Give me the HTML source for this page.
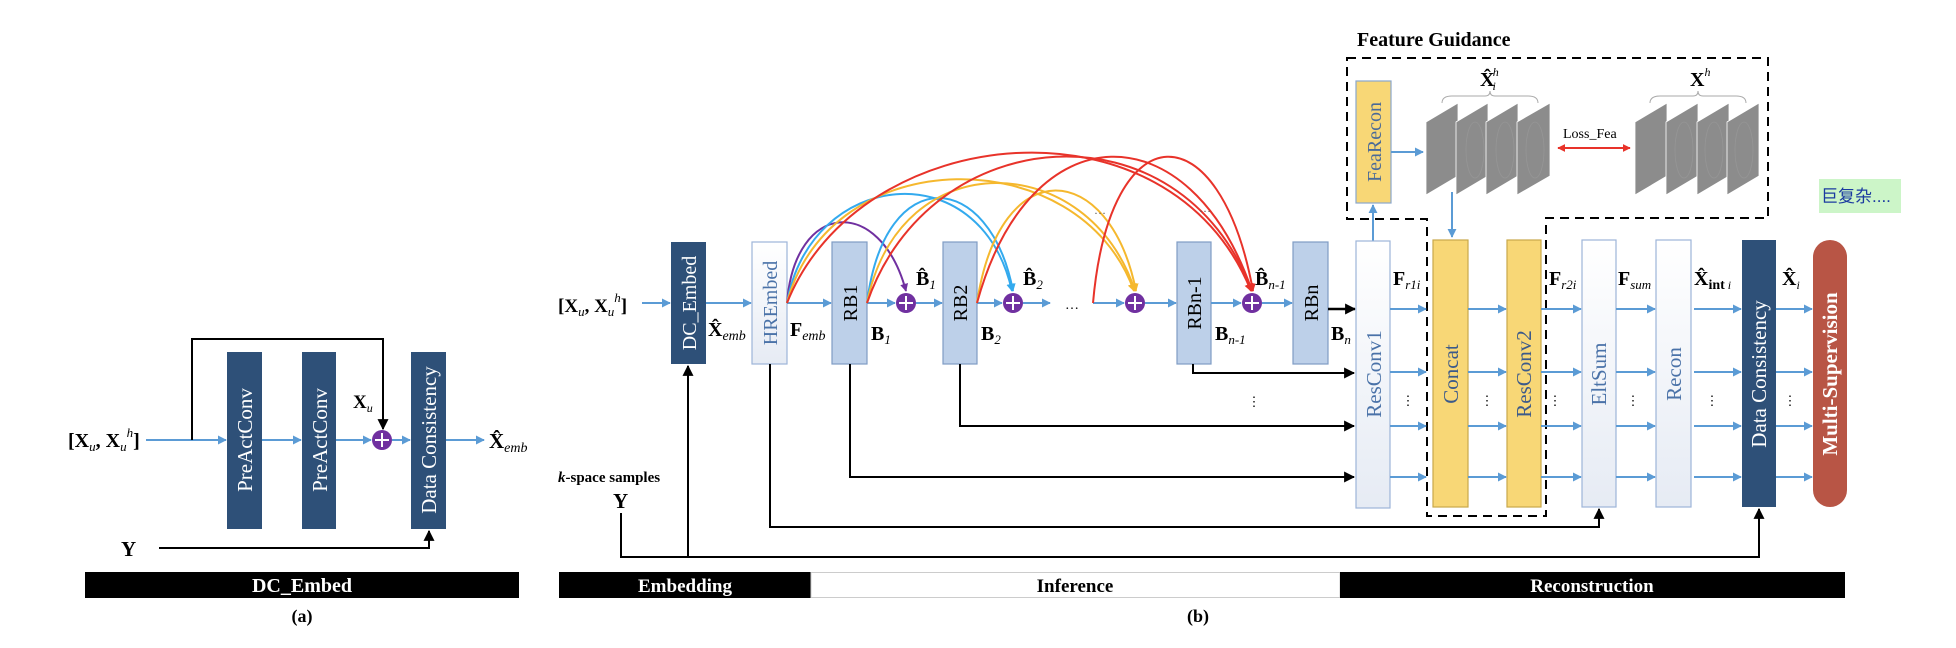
<!DOCTYPE html>
<html><head><meta charset="utf-8"><style>
html,body{margin:0;padding:0;background:#fff;}
svg{display:block;font-family:"Liberation Serif",serif;}
</style></head><body>
<svg width="1956" height="648" viewBox="0 0 1956 648" xmlns="http://www.w3.org/2000/svg">
<defs>
<marker id="ab" viewBox="0 0 10 10" refX="9" refY="5" markerWidth="9" markerHeight="9" markerUnits="userSpaceOnUse" orient="auto"><path d="M0,0 L10,5 L0,10 z" fill="#5b9bd5"/></marker>
<marker id="ak" viewBox="0 0 10 10" refX="9" refY="5" markerWidth="11" markerHeight="11" markerUnits="userSpaceOnUse" orient="auto"><path d="M0,0 L10,5 L0,10 z" fill="#000"/></marker>
<marker id="ap" viewBox="0 0 10 10" refX="9" refY="5" markerWidth="8" markerHeight="8" markerUnits="userSpaceOnUse" orient="auto"><path d="M0,0 L10,5 L0,10 z" fill="#7030a0"/></marker>
<marker id="ac" viewBox="0 0 10 10" refX="9" refY="5" markerWidth="8" markerHeight="8" markerUnits="userSpaceOnUse" orient="auto"><path d="M0,0 L10,5 L0,10 z" fill="#33aaee"/></marker>
<marker id="ay" viewBox="0 0 10 10" refX="9" refY="5" markerWidth="8" markerHeight="8" markerUnits="userSpaceOnUse" orient="auto"><path d="M0,0 L10,5 L0,10 z" fill="#f5b82e"/></marker>
<marker id="ar" viewBox="0 0 10 10" refX="9" refY="5" markerWidth="8" markerHeight="8" markerUnits="userSpaceOnUse" orient="auto"><path d="M0,0 L10,5 L0,10 z" fill="#e8332a"/></marker>
<marker id="ar2" viewBox="0 0 10 10" refX="1" refY="5" markerWidth="8" markerHeight="8" markerUnits="userSpaceOnUse" orient="auto"><path d="M10,0 L0,5 L10,10 z" fill="#e8332a"/></marker>
<linearGradient id="wg" x1="0" y1="0" x2="0" y2="1"><stop offset="0" stop-color="#ffffff"/><stop offset="1" stop-color="#e6ebf4"/></linearGradient>
<g id="plus"><circle r="10" fill="#7030a0"/><path d="M-7,0 H7 M0,-7 V7" stroke="#fff" stroke-width="2"/></g>
</defs>

<!-- ===== Part (a) ===== -->
<text x="68" y="447" font-size="20" font-weight="bold">[X<tspan font-size="13" font-style="italic" font-weight="normal" dy="4">u</tspan><tspan dy="-4">, X</tspan><tspan font-size="13" font-style="italic" font-weight="normal" dy="4">u</tspan><tspan font-size="13" font-style="italic" font-weight="normal" dy="-14">h</tspan><tspan dy="10">]</tspan></text>
<line x1="146" y1="440" x2="226" y2="440" stroke="#5b9bd5" stroke-width="2" marker-end="url(#ab)"/>
<polyline points="192,440 192,339 383,339 383,429" fill="none" stroke="#000" stroke-width="2" marker-end="url(#ak)"/>
<rect x="227" y="352" width="35" height="177" fill="#2e5078"/>
<rect x="302" y="352" width="34" height="177" fill="#2e5078"/>
<rect x="411" y="352" width="35" height="177" fill="#2e5078"/>
<text transform="translate(252,440) rotate(-90)" text-anchor="middle" font-size="21" fill="#fff">PreActConv</text>
<text transform="translate(327,440) rotate(-90)" text-anchor="middle" font-size="21" fill="#fff">PreActConv</text>
<text transform="translate(436,440) rotate(-90)" text-anchor="middle" font-size="21" fill="#fff">Data Consistency</text>
<line x1="262" y1="440" x2="301" y2="440" stroke="#5b9bd5" stroke-width="2" marker-end="url(#ab)"/>
<line x1="336" y1="440" x2="371" y2="440" stroke="#5b9bd5" stroke-width="2" marker-end="url(#ab)"/>
<use href="#plus" x="382" y="440"/>
<line x1="392" y1="440" x2="410" y2="440" stroke="#5b9bd5" stroke-width="2" marker-end="url(#ab)"/>
<line x1="446" y1="440" x2="484" y2="440" stroke="#5b9bd5" stroke-width="2" marker-end="url(#ab)"/>
<text x="353" y="408" font-size="19" font-weight="bold">X<tspan font-size="12" font-style="italic" font-weight="normal" dy="4">u</tspan></text>
<text x="489" y="448" font-size="21" font-weight="bold">X̂<tspan font-size="14" font-style="italic" font-weight="normal" dy="4">emb</tspan></text>
<text x="121" y="556" font-size="21" font-weight="bold">Y</text>
<polyline points="159,548 429,548 429,531" fill="none" stroke="#000" stroke-width="2" marker-end="url(#ak)"/>
<rect x="85" y="572" width="434" height="26" fill="#000"/>
<text x="302" y="592" text-anchor="middle" font-size="20" font-weight="bold" fill="#fff">DC_Embed</text>
<text x="302" y="622" text-anchor="middle" font-size="18" font-weight="bold">(a)</text>

<!-- ===== Part (b) ===== -->
<text x="558" y="312" font-size="19" font-weight="bold">[X<tspan font-size="13" font-style="italic" font-weight="normal" dy="4">u</tspan><tspan dy="-4">, X</tspan><tspan font-size="13" font-style="italic" font-weight="normal" dy="4">u</tspan><tspan font-size="13" font-style="italic" font-weight="normal" dy="-14">h</tspan><tspan dy="10">]</tspan></text>
<line x1="642" y1="303" x2="670" y2="303" stroke="#5b9bd5" stroke-width="2" marker-end="url(#ab)"/>
<rect x="671" y="242" width="35" height="122" fill="#2e5078"/>
<text transform="translate(696,303) rotate(-90)" text-anchor="middle" font-size="20" fill="#fff">DC_Embed</text>
<line x1="706" y1="303" x2="751" y2="303" stroke="#5b9bd5" stroke-width="2" marker-end="url(#ab)"/>
<rect x="752" y="242" width="35" height="122" fill="url(#wg)" stroke="#9db5d8" stroke-width="1.2"/>
<text transform="translate(777,303) rotate(-90)" text-anchor="middle" font-size="20" fill="#4a72a8">HREmbed</text>
<line x1="787" y1="303" x2="831" y2="303" stroke="#5b9bd5" stroke-width="2" marker-end="url(#ab)"/>
<rect x="832" y="242" width="35" height="122" fill="#bdd0e9" stroke="#7f9cc4" stroke-width="1.2"/>
<text transform="translate(857,303) rotate(-90)" text-anchor="middle" font-size="20" fill="#000">RB1</text>
<line x1="867" y1="303" x2="895" y2="303" stroke="#5b9bd5" stroke-width="2" marker-end="url(#ab)"/>
<use href="#plus" x="906" y="303"/>
<line x1="916" y1="303" x2="942" y2="303" stroke="#5b9bd5" stroke-width="2" marker-end="url(#ab)"/>
<rect x="943" y="242" width="34" height="122" fill="#bdd0e9" stroke="#7f9cc4" stroke-width="1.2"/>
<text transform="translate(967,303) rotate(-90)" text-anchor="middle" font-size="20" fill="#000">RB2</text>
<line x1="977" y1="303" x2="1002" y2="303" stroke="#5b9bd5" stroke-width="2" marker-end="url(#ab)"/>
<use href="#plus" x="1013" y="303"/>
<line x1="1023" y1="303" x2="1050" y2="303" stroke="#5b9bd5" stroke-width="2" marker-end="url(#ab)"/>
<text x="1072" y="309" text-anchor="middle" font-size="14">…</text>
<line x1="1093" y1="303" x2="1124" y2="303" stroke="#5b9bd5" stroke-width="2" marker-end="url(#ab)"/>
<use href="#plus" x="1135" y="303"/>
<line x1="1145" y1="303" x2="1176" y2="303" stroke="#5b9bd5" stroke-width="2" marker-end="url(#ab)"/>
<rect x="1177" y="242" width="34" height="122" fill="#bdd0e9" stroke="#7f9cc4" stroke-width="1.2"/>
<text transform="translate(1201,303) rotate(-90)" text-anchor="middle" font-size="20" fill="#000">RBn-1</text>
<line x1="1211" y1="303" x2="1241" y2="303" stroke="#5b9bd5" stroke-width="2" marker-end="url(#ab)"/>
<use href="#plus" x="1252" y="303"/>
<line x1="1262" y1="303" x2="1292" y2="303" stroke="#5b9bd5" stroke-width="2" marker-end="url(#ab)"/>
<rect x="1293" y="242" width="35" height="122" fill="#bdd0e9" stroke="#7f9cc4" stroke-width="1.2"/>
<text transform="translate(1318,303) rotate(-90)" text-anchor="middle" font-size="20" fill="#000">RBn</text>
<line x1="1328" y1="309" x2="1355" y2="309" stroke="#000" stroke-width="2.5" marker-end="url(#ak)"/>

<!-- arcs -->
<g fill="none" stroke-width="2">
<path d="M787,303 C795,200 880,195 906,291" stroke="#7030a0" marker-end="url(#ap)"/>
<path d="M787,303 C810,170 980,150 1012,291" stroke="#33aaee" marker-end="url(#ac)"/>
<path d="M867,303 C885,160 990,170 1013,291" stroke="#33aaee" marker-end="url(#ac)"/>
<path d="M787,303 C830,140 1080,140 1134,291" stroke="#f5b82e" marker-end="url(#ay)"/>
<path d="M867,303 C900,140 1090,150 1135,291" stroke="#f5b82e" marker-end="url(#ay)"/>
<path d="M977,303 C1000,150 1110,160 1136,291" stroke="#f5b82e" marker-end="url(#ay)"/>
<path d="M787,303 C860,120 1170,90 1251,291" stroke="#e8332a" marker-end="url(#ar)"/>
<path d="M867,303 C930,120 1180,100 1252,291" stroke="#e8332a" marker-end="url(#ar)"/>
<path d="M977,303 C1030,110 1190,110 1252,291" stroke="#e8332a" marker-end="url(#ar)"/>
<path d="M1093,303 C1110,110 1220,110 1253,291" stroke="#e8332a" marker-end="url(#ar)"/>
</g>
<text x="1100" y="214" text-anchor="middle" font-size="12" fill="#555">…</text>
<text x="1205" y="212" text-anchor="middle" font-size="12" fill="#555">…</text>

<!-- labels -->
<text x="708" y="336" font-size="20" font-weight="bold">X̂<tspan font-size="14" font-style="italic" font-weight="normal" dy="4">emb</tspan></text>
<text x="790" y="336" font-size="20" font-weight="bold">F<tspan font-size="14" font-style="italic" font-weight="normal" dy="4">emb</tspan></text>
<text x="871" y="340" font-size="20" font-weight="bold">B<tspan font-size="13" font-style="italic" font-weight="normal" dy="4">1</tspan></text>
<text x="981" y="340" font-size="20" font-weight="bold">B<tspan font-size="13" font-style="italic" font-weight="normal" dy="4">2</tspan></text>
<text x="1215" y="340" font-size="20" font-weight="bold">B<tspan font-size="13" font-style="italic" font-weight="normal" dy="4">n-1</tspan></text>
<text x="1331" y="340" font-size="20" font-weight="bold">B<tspan font-size="13" font-style="italic" font-weight="normal" dy="4">n</tspan></text>
<text x="916" y="285" font-size="20" font-weight="bold">B̂<tspan font-size="13" font-style="italic" font-weight="normal" dy="4">1</tspan></text>
<text x="1023" y="285" font-size="20" font-weight="bold">B̂<tspan font-size="13" font-style="italic" font-weight="normal" dy="4">2</tspan></text>
<text x="1255" y="285" font-size="20" font-weight="bold">B̂<tspan font-size="13" font-style="italic" font-weight="normal" dy="4">n-1</tspan></text>

<!-- black connectors -->
<g fill="none" stroke="#000" stroke-width="2">
<polyline points="1193,364 1193,373 1354,373" marker-end="url(#ak)"/>
<polyline points="960,364 960,426 1354,426" marker-end="url(#ak)"/>
<polyline points="850,364 850,477 1354,477" marker-end="url(#ak)"/>
<polyline points="770,364 770,527 1599,527 1599,509" marker-end="url(#ak)"/>
<polyline points="621,513 621,557 1759,557 1759,509" marker-end="url(#ak)"/>
<line x1="688" y1="557" x2="688" y2="366" marker-end="url(#ak)"/>
</g>
<text x="1254" y="406" text-anchor="middle" font-size="13">⋮</text>
<text x="558" y="482" font-size="15" font-weight="bold"><tspan font-style="italic">k</tspan>-space samples</text>
<text x="613" y="508" font-size="21" font-weight="bold">Y</text>

<!-- feature guidance -->
<text x="1357" y="46" font-size="20" font-weight="bold">Feature Guidance</text>
<path d="M1347,58 H1768 V218 H1546 V516 H1427 V219 H1347 Z" fill="none" stroke="#000" stroke-width="2" stroke-dasharray="9,6"/>
<rect x="1356" y="81" width="35" height="122" fill="#f8d776" stroke="#8aa6cc" stroke-width="1.2"/>
<text transform="translate(1381,142) rotate(-90)" text-anchor="middle" font-size="20" fill="#4a6a98">FeaRecon</text>
<line x1="1373" y1="241" x2="1373" y2="205" stroke="#5b9bd5" stroke-width="2" marker-end="url(#ab)"/>
<line x1="1391" y1="152" x2="1423" y2="152" stroke="#5b9bd5" stroke-width="2" marker-end="url(#ab)"/>
<g fill="#8c8c8c" stroke="#fff" stroke-width="0.8">
<polygon points="1426,122 1458,103 1458,176 1426,195"/>
<polygon points="1456,122 1488,103 1488,176 1456,195"/>
<polygon points="1486,122 1518,103 1518,176 1486,195"/>
<polygon points="1517,122 1550,103 1550,176 1517,195"/>
<polygon points="1635,122 1667,103 1667,176 1635,195"/>
<polygon points="1666,122 1698,103 1698,176 1666,195"/>
<polygon points="1697,122 1729,103 1729,176 1697,195"/>
<polygon points="1727,122 1759,103 1759,176 1727,195"/>
</g>
<g fill="none" stroke="#9a9a9a" stroke-width="0.8" opacity="0.7">
<ellipse cx="1475" cy="150" rx="9" ry="28"/><ellipse cx="1505" cy="150" rx="9" ry="28"/><ellipse cx="1535" cy="150" rx="9" ry="28"/>
<ellipse cx="1684" cy="150" rx="9" ry="28"/><ellipse cx="1714" cy="150" rx="9" ry="28"/><ellipse cx="1744" cy="150" rx="9" ry="28"/>
</g>
<path d="M1442,103 Q1442,96 1452,96 H1485 Q1490,96 1490,91 Q1490,96 1495,96 H1528 Q1538,96 1538,103" fill="none" stroke="#aaa" stroke-width="1"/>
<path d="M1650,103 Q1650,96 1660,96 H1693 Q1698,96 1698,91 Q1698,96 1703,96 H1736 Q1746,96 1746,103" fill="none" stroke="#aaa" stroke-width="1"/>
<text x="1480" y="86" font-size="20" font-weight="bold">X̂<tspan font-size="12" font-style="italic" font-weight="normal" dx="-2" dy="4">i</tspan><tspan font-size="12" font-style="italic" font-weight="normal" dx="-3" dy="-14">h</tspan></text>
<text x="1690" y="86" font-size="20" font-weight="bold">X<tspan font-size="12" font-style="italic" font-weight="normal" dy="-10">h</tspan></text>
<text x="1563" y="138" font-size="14">Loss_Fea</text>
<line x1="1558" y1="148" x2="1630" y2="148" stroke="#e8332a" stroke-width="2" marker-start="url(#ar2)" marker-end="url(#ar)"/>
<line x1="1452" y1="192" x2="1452" y2="237" stroke="#5b9bd5" stroke-width="2" marker-end="url(#ab)"/>

<!-- reconstruction boxes -->
<rect x="1356" y="241" width="34" height="267" fill="url(#wg)" stroke="#9db5d8" stroke-width="1.2"/>
<text transform="translate(1381,374) rotate(-90)" text-anchor="middle" font-size="21" fill="#4a72a8">ResConv1</text>
<rect x="1433" y="240" width="35" height="267" fill="#f8d776" stroke="#c9a84a" stroke-width="1.2"/>
<text transform="translate(1458,374) rotate(-90)" text-anchor="middle" font-size="21" fill="#3c5a8a">Concat</text>
<rect x="1507" y="240" width="34" height="267" fill="#f8d776" stroke="#c9a84a" stroke-width="1.2"/>
<text transform="translate(1531,374) rotate(-90)" text-anchor="middle" font-size="21" fill="#3c5a8a">ResConv2</text>
<rect x="1582" y="240" width="34" height="267" fill="url(#wg)" stroke="#9db5d8" stroke-width="1.2"/>
<text transform="translate(1606,374) rotate(-90)" text-anchor="middle" font-size="21" fill="#4a72a8">EltSum</text>
<rect x="1656" y="240" width="35" height="267" fill="url(#wg)" stroke="#9db5d8" stroke-width="1.2"/>
<text transform="translate(1681,374) rotate(-90)" text-anchor="middle" font-size="21" fill="#4a72a8">Recon</text>
<rect x="1742" y="240" width="34" height="267" fill="#2e5078"/>
<text transform="translate(1766,374) rotate(-90)" text-anchor="middle" font-size="21" fill="#fff">Data Consistency</text>
<rect x="1813" y="240" width="34" height="267" rx="17" fill="#b85545"/>
<text transform="translate(1837,374) rotate(-90)" text-anchor="middle" font-size="21" font-weight="bold" fill="#fff">Multi-Supervision</text>

<g stroke="#5b9bd5" stroke-width="2" marker-end="url(#ab)">
<line x1="1390" y1="309" x2="1426" y2="309"/><line x1="1390" y1="372" x2="1426" y2="372"/><line x1="1390" y1="426" x2="1426" y2="426"/><line x1="1390" y1="477" x2="1426" y2="477"/>
<line x1="1468" y1="309" x2="1506" y2="309"/><line x1="1468" y1="372" x2="1506" y2="372"/><line x1="1468" y1="426" x2="1506" y2="426"/><line x1="1468" y1="477" x2="1506" y2="477"/>
<line x1="1541" y1="309" x2="1581" y2="309"/><line x1="1541" y1="372" x2="1581" y2="372"/><line x1="1541" y1="426" x2="1581" y2="426"/><line x1="1541" y1="477" x2="1581" y2="477"/>
<line x1="1616" y1="309" x2="1655" y2="309"/><line x1="1616" y1="372" x2="1655" y2="372"/><line x1="1616" y1="426" x2="1655" y2="426"/><line x1="1616" y1="477" x2="1655" y2="477"/>
<line x1="1694" y1="309" x2="1741" y2="309"/><line x1="1694" y1="372" x2="1741" y2="372"/><line x1="1694" y1="426" x2="1741" y2="426"/><line x1="1694" y1="477" x2="1741" y2="477"/>
<line x1="1776" y1="309" x2="1812" y2="309"/><line x1="1776" y1="372" x2="1812" y2="372"/><line x1="1776" y1="426" x2="1812" y2="426"/><line x1="1776" y1="477" x2="1812" y2="477"/>
</g>
<g font-size="13" text-anchor="middle">
<text x="1408" y="405">⋮</text><text x="1487" y="405">⋮</text><text x="1555" y="405">⋮</text><text x="1633" y="405">⋮</text><text x="1712" y="405">⋮</text><text x="1790" y="405">⋮</text>
</g>
<text x="1393" y="285" font-size="20" font-weight="bold">F<tspan font-size="13" font-style="italic" font-weight="normal" dy="4">r1i</tspan></text>
<text x="1549" y="285" font-size="20" font-weight="bold">F<tspan font-size="13" font-style="italic" font-weight="normal" dy="4">r2i</tspan></text>
<text x="1618" y="285" font-size="20" font-weight="bold">F<tspan font-size="13" font-style="italic" font-weight="normal" dy="4">sum</tspan></text>
<text x="1694" y="285" font-size="20" font-weight="bold">X̂<tspan font-size="14" dy="4">int</tspan><tspan font-size="12" font-style="italic" font-weight="normal"> i</tspan></text>
<text x="1782" y="285" font-size="20" font-weight="bold">X̂<tspan font-size="12" font-style="italic" font-weight="normal" dy="4">i</tspan></text>

<rect x="1819" y="179" width="82" height="34" fill="#ccf5c8"/>
<text x="1821" y="202" font-size="17" fill="#1a3aa0" font-family="'Liberation Sans','Noto Sans CJK SC',sans-serif">巨复杂....</text>

<!-- bottom bars -->
<rect x="559" y="572" width="252" height="26" fill="#000"/>
<rect x="811" y="572.5" width="529" height="25" fill="#fff" stroke="#ccc" stroke-width="1"/>
<rect x="1340" y="572" width="505" height="26" fill="#000"/>
<text x="685" y="592" text-anchor="middle" font-size="19" font-weight="bold" fill="#fff">Embedding</text>
<text x="1075" y="592" text-anchor="middle" font-size="19" font-weight="bold">Inference</text>
<text x="1592" y="592" text-anchor="middle" font-size="19" font-weight="bold" fill="#fff">Reconstruction</text>
<text x="1198" y="622" text-anchor="middle" font-size="18" font-weight="bold">(b)</text>
</svg>
</body></html>
